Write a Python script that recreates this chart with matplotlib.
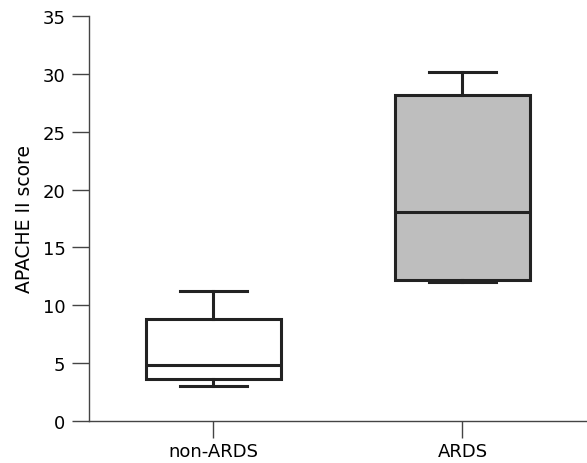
import matplotlib.pyplot as plt

groups = ['non-ARDS', 'ARDS']
whislo = [3.0, 12.0]
q1 = [3.6, 12.2]
med = [4.85, 18.1]
q3 = [8.8, 28.15]
whishi = [11.25, 30.15]
fills = ['white', '#bebebe']

plt.rcParams['font.family'] = ['DejaVu Sans']

fig = plt.figure(figsize=(5.87, 4.64), dpi=100)
ax = fig.add_axes([0.1516, 0.0905, 0.8484, 0.873])

stats = []
for i in range(len(groups)):
    stats.append({'label': groups[i], 'whislo': whislo[i], 'q1': q1[i],
                  'med': med[i], 'q3': q3[i], 'whishi': whishi[i]})

bp = ax.bxp(stats, positions=[1, 2], widths=0.54, showfliers=False,
            patch_artist=True,
            boxprops=dict(linewidth=2.2, edgecolor='#222222'),
            medianprops=dict(linewidth=2.2, color='#222222'),
            whiskerprops=dict(linewidth=2.2, color='#222222'),
            capprops=dict(linewidth=2.2, color='#222222'),
            capwidths=0.27)
for patch, c in zip(bp['boxes'], fills):
    patch.set_facecolor(c)

ax.set_xlim(0.5, 2.5)
ax.set_ylim(0, 35)
ax.set_yticks(range(0, 36, 5))
ax.set_xticks([1, 2])
ax.set_xticklabels(groups)
ax.set_ylabel('APACHE II score', fontsize=13.5, labelpad=6)

for s in ['top', 'right']:
    ax.spines[s].set_visible(False)
for s in ['left', 'bottom']:
    ax.spines[s].set_color('#444444')
    ax.spines[s].set_linewidth(1.0)
ax.tick_params(axis='y', length=12, width=1, color='#444444', labelsize=13, pad=5)
ax.tick_params(axis='x', length=12, width=1, color='#444444', labelsize=13, pad=3)

fig.savefig('out.png', dpi=100)
